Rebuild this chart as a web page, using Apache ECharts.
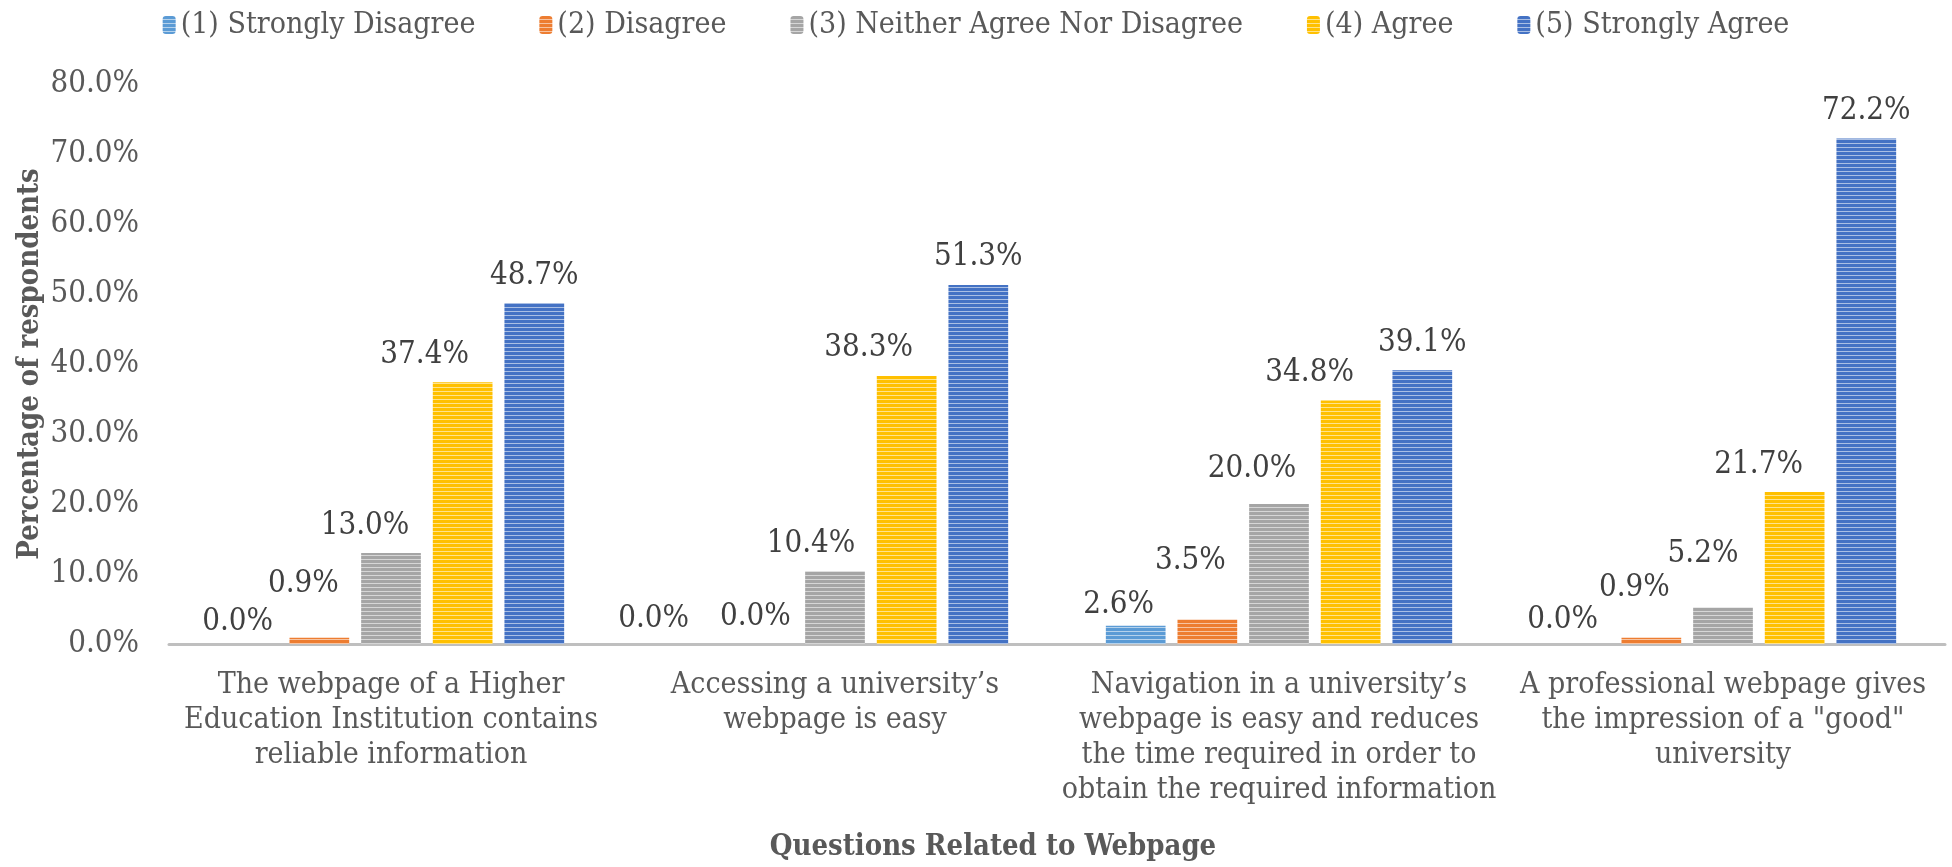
<!DOCTYPE html>
<html>
<head>
<meta charset="utf-8">
<script src="https://cdn.jsdelivr.net/npm/echarts@6/dist/echarts.min.js"></script>
<style>
  html, body { margin: 0; padding: 0; background: #fff; }
  #chart { width: 1952px; height: 867px; }
</style>
</head>
<body>
<div id="chart"></div>
<script>
const categories = [
  'The webpage of a Higher\nEducation Institution contains\nreliable information',
  'Accessing a university\u2019s\nwebpage is easy',
  'Navigation in a university\u2019s\nwebpage is easy and reduces\nthe time required in order to\nobtain the required information',
  'A professional webpage gives\nthe impression of a "good"\nuniversity'
];
const seriesNames = [
  '(1) Strongly Disagree',
  '(2) Disagree',
  '(3) Neither Agree Nor Disagree',
  '(4) Agree',
  '(5) Strongly Agree'
];
const stronglyDisagree = [0.0, 0.0, 2.6, 0.0];
const disagree = [0.9, 0.0, 3.5, 0.9];
const neutral = [13.0, 10.4, 20.0, 5.2];
const agree = [37.4, 38.3, 34.8, 21.7];
const stronglyAgree = [48.7, 51.3, 39.1, 72.2];

const seriesColors = ['#5B9BD5', '#ED7D31', '#A5A5A5', '#FFC000', '#4472C4'];
// labels were nudged by hand in the original, [dx, dy] per bar
const labelNudge = [
  [[-10, 5], [-38, 2], [-17, 7], [-17, 3]],
  [[-16, -26], [-8, 0], [-17, -31], [-17, -22]],
  [[-26, 0], [-24, 0], [-27, -8], [-20, -26]],
  [[-38, 0], [-38, 0], [-41, 0], [-36, 0]],
  [[0, 0], [0, 0], [0, 0], [0, 0]]
];

const FONT = '"DejaVu Serif Condensed", "DejaVu Serif", serif';

// horizontal stripe fill like the Excel pattern
function stripes(color) {
  const c = document.createElement('canvas');
  c.width = 4;
  c.height = 4;
  const ctx = c.getContext('2d');
  ctx.fillStyle = color;
  ctx.fillRect(0, 0, 4, 4);
  ctx.fillStyle = 'rgba(255,255,255,0.55)';
  ctx.fillRect(0, 3, 4, 1);
  return { image: c, repeat: 'repeat' };
}

const allData = [stronglyDisagree, disagree, neutral, agree, stronglyAgree];

const chart = echarts.init(document.getElementById('chart'));
chart.setOption({
  animation: false,
  textStyle: { fontFamily: FONT },
  legend: {
    top: 5,
    left: 'center',
    itemWidth: 13,
    itemHeight: 18,
    itemGap: 64,
    textStyle: { fontFamily: FONT, fontSize: 30, color: '#595959' },
    data: seriesNames
  },
  grid: { left: 169, right: 7, top: 84, bottom: 222 },
  xAxis: {
    type: 'category',
    data: categories,
    axisLine: { lineStyle: { color: '#BFBFBF', width: 3 } },
    axisTick: { show: false },
    axisLabel: {
      interval: 0,
      margin: 24,
      fontFamily: FONT,
      fontSize: 30,
      lineHeight: 35,
      color: '#595959'
    },
    name: 'Questions Related to Webpage',
    nameLocation: 'middle',
    nameGap: 189,
    nameTextStyle: {
      fontFamily: FONT,
      fontSize: 29,
      fontWeight: 'bold',
      color: '#595959',
      padding: [0, 128, 0, 0]
    }
  },
  yAxis: {
    type: 'value',
    min: 0,
    max: 80,
    interval: 10,
    splitLine: { show: false },
    axisLine: { show: false },
    axisTick: { show: false },
    axisLabel: {
      margin: 30,
      fontFamily: FONT,
      fontSize: 31,
      color: '#595959',
      formatter: v => v.toFixed(1) + '%'
    },
    name: 'Percentage of respondents',
    nameLocation: 'middle',
    nameGap: 124,
    nameMoveOverlap: false,
    nameTextStyle: { fontFamily: FONT, fontSize: 29, fontWeight: 'bold', color: '#595959' }
  },
  series: seriesNames.map((name, i) => ({
    name: name,
    type: 'bar',
    barGap: '20%',
    barCategoryGap: '22%',
    itemStyle: { color: stripes(seriesColors[i]) },
    label: {
      show: true,
      position: 'top',
      distance: 12,
      fontFamily: FONT,
      fontSize: 31,
      color: '#404040',
      formatter: p => p.value.toFixed(1) + '%'
    },
    data: allData[i].map((v, j) => ({
      value: v,
      label: { offset: labelNudge[i][j] }
    }))
  }))
});
</script>
</body>
</html>
